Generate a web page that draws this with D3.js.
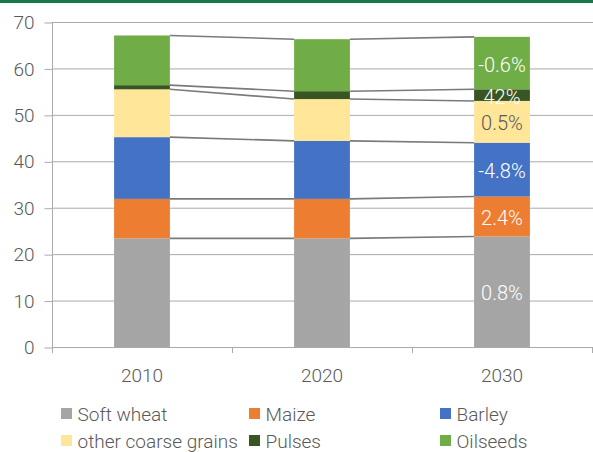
<!DOCTYPE html>
<head>
  <meta charset="utf-8">
  <style>
    body { margin: 0; background: #fff; font-family: Roboto, "DejaVu Sans Condensed"; font-weight: 300; }
    svg { display: block; }
    text { font-family: Roboto, "DejaVu Sans Condensed"; font-weight: 300; }
  </style>
</head>
<svg width="593" height="452"></svg>
<script src="https://cdnjs.cloudflare.com/ajax/libs/d3/7.8.5/d3.min.js"></script>
<script>
  // values (million ha)
  const years = ["2010", "2020", "2030"];
  const crops = ["Soft wheat", "Maize", "Barley", "other coarse grains", "Pulses", "Oilseeds"];
  const colors = ["#a5a5a5", "#ed7d31", "#4472c4", "#ffe699", "#375623", "#70ad47"];
  const softWheat = [23.4, 23.4, 23.8];
  const maize = [8.5, 8.5, 8.6];
  const barley = [13.3, 12.5, 11.6];
  const otherCoarse = [10.3, 9.0, 9.0];
  const pulses = [0.9, 1.7, 2.5];
  const oilseeds = [10.7, 11.2, 11.3];
  const changeLabels = ["0.8%", "2.4%", "-4.8%", "0.5%", "42%", "-0.6%"];
  const yTicks = [0, 10, 20, 30, 40, 50, 60, 70];

  const series = [softWheat, maize, barley, otherCoarse, pulses, oilseeds];
  const rows = years.map(function(y, i) {
    const r = { year: y };
    crops.forEach(function(c, k) { r[c] = series[k][i]; });
    return r;
  });
  const stacked = d3.stack().keys(crops)(rows);

  const svg = d3.select("svg");
  const textCol = "#595959";
  const fs = "19px";

  // green band on top
  svg.append("rect").attr("x", 0).attr("y", 0).attr("width", 593).attr("height", 3).attr("fill", "#17784a");

  const y = d3.scaleLinear().domain([0, 70]).range([347, 22]);
  const x = d3.scaleBand().domain(years).range([52, 592]);
  const barW = x.bandwidth() * 0.31;
  const cx = function(d) { return x(d) + x.bandwidth() / 2; };

  // gridlines
  svg.append("g").selectAll("line")
    .data(yTicks)
    .enter().append("line")
    .attr("x1", 52).attr("x2", 593)
    .attr("y1", function(d) { return y(d) + 0.5; })
    .attr("y2", function(d) { return y(d) + 0.5; })
    .style("stroke", "#aaaaaa")
    .style("stroke-width", 1);

  // y axis
  const yAxis = svg.append("g")
    .attr("transform", "translate(52.5,0.5)")
    .call(d3.axisLeft(y).tickValues(yTicks).tickSize(8).tickSizeOuter(0).tickPadding(10));
  yAxis.select(".domain").remove();
  yAxis.selectAll(".tick line").style("stroke", "#aaaaaa");
  yAxis.selectAll("text").style("font-size", fs).style("fill", textCol)
    .style("font-family", null);
  svg.append("line").attr("x1", 52.5).attr("x2", 52.5).attr("y1", 22).attr("y2", 353)
    .style("stroke", "#aaaaaa");

  // x axis: ticks between categories, labels centred
  const xAxis = svg.append("g")
    .attr("transform", "translate(0,347)")
    .call(d3.axisBottom(x).tickSize(0).tickPadding(22));
  xAxis.select(".domain").remove();
  xAxis.selectAll("text").style("font-size", fs).style("fill", textCol)
    .style("font-family", null);
  svg.append("g").selectAll("line")
    .data(years.concat(["end"]))
    .enter().append("line")
    .attr("x1", function(d, i) { return Math.round(52 + i * x.step()) + 0.5; })
    .attr("x2", function(d, i) { return Math.round(52 + i * x.step()) + 0.5; })
    .attr("y1", 347).attr("y2", 353)
    .style("stroke", "#aaaaaa");

  // bars
  svg.append("g").selectAll("g")
    .data(stacked)
    .enter().append("g")
    .attr("fill", function(d, k) { return colors[k]; })
    .selectAll("rect")
    .data(function(d) { return d; })
    .enter().append("rect")
    .attr("x", function(d) { return cx(d.data.year) - barW / 2; })
    .attr("width", barW)
    .attr("y", function(d) { return y(d[1]); })
    .attr("height", function(d) { return y(d[0]) - y(d[1]); });

  // connector lines between bars at each segment top
  const links = [];
  stacked.forEach(function(s) {
    for (let i = 0; i < years.length - 1; i++) {
      links.push({ x1: cx(years[i]) + barW / 2, y1: s[i][1], x2: cx(years[i + 1]) - barW / 2, y2: s[i + 1][1] });
    }
  });
  svg.append("g").selectAll("line")
    .data(links)
    .enter().append("line")
    .attr("x1", function(d) { return d.x1; })
    .attr("x2", function(d) { return d.x2; })
    .attr("y1", function(d) { return y(d.y1); })
    .attr("y2", function(d) { return y(d.y2); })
    .style("stroke", "#7a7a7a")
    .style("stroke-width", 1.6);

  // change labels in the 2030 bar
  const last = years.length - 1;
  svg.append("g").selectAll("text")
    .data(stacked)
    .enter().append("text")
    .attr("x", cx(years[last]))
    .attr("y", function(d) { return y((d[last][0] + d[last][1]) / 2) + 1.5; })
    .attr("text-anchor", "middle")
    .attr("dominant-baseline", "central")
    .style("font-size", "20px")
    .style("fill", function(d, k) { return k === 3 ? textCol : "#ffffff"; })
    .text(function(d, k) { return changeLabels[k]; });

  // legend
  const legX = [61, 249, 440];
  const legY = [408, 435];
  const leg = svg.append("g").selectAll("g")
    .data(crops)
    .enter().append("g")
    .attr("transform", function(d, i) { return "translate(" + legX[i % 3] + "," + legY[Math.floor(i / 3)] + ")"; });
  leg.append("rect").attr("width", 11).attr("height", 11)
    .attr("fill", function(d, i) { return colors[i]; });
  leg.append("text")
    .attr("x", 16.5).attr("y", 13)
    .style("font-size", fs)
    .style("fill", textCol)
    .text(function(d) { return d; });
</script>
